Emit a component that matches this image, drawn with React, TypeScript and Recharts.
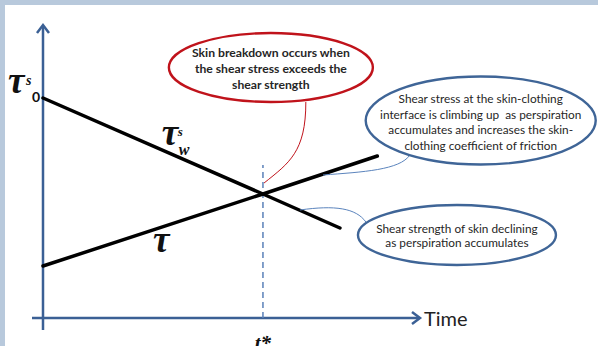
import { ComposedChart, Line, XAxis, YAxis, ReferenceLine, ReferenceDot } from 'recharts'

// time runs 0..17, t* = 10; stress values in arbitrary units
const stressPoints = [
  { t: 0, v: 5.2 },
  { t: 10, v: 12.4 },
  { t: 15.2, v: 16.2 },
]
const strengthPoints = [
  { t: 0, v: 22 },
  { t: 10, v: 12.4 },
  { t: 13.5, v: 9 },
]
const tStar = 10
const xDomain = [-0.5, 17.14]
const yDomain = [-1.2, 29.3]

const breakdownNote = ['Skin breakdown occurs when', 'the shear stress exceeds the', 'shear strength']
const stressNote = [
  'Shear stress at the skin-clothing',
  'interface is climbing up  as perspiration',
  'accumulates and increases the skin-',
  'clothing coefficient of friction',
]
const strengthNote = ['Shear strength of skin declining', 'as perspiration accumulates']

const AXIS = '#3b6095'
const RED = '#c0131b'
const BLUE = '#3f6597'
const SANS = 'Lato, "Open Sans", sans-serif'
const SERIF = '"Liberation Serif", serif'

function AxisX(p: any) {
  const { x1, y1, x2 } = p
  const right = Math.max(x1, x2)
  return (
    <g>
      <line x1={Math.min(x1, x2)} y1={y1} x2={right - 1} y2={y1} stroke={AXIS} strokeWidth={2.5} />
      <polyline points={`${right - 8},${y1 - 6} ${right},${y1} ${right - 8},${y1 + 6}`} fill="none" stroke={AXIS} strokeWidth={2.5} />
      <text x={right + 4} y={y1 + 8} fontFamily={SANS} fontSize={20} fill="#222">Time</text>
    </g>
  )
}

function AxisY(p: any) {
  const { x1, y1, y2 } = p
  const top = Math.min(y1, y2)
  return (
    <g>
      <line x1={x1} y1={Math.max(y1, y2)} x2={x1} y2={top + 1} stroke={AXIS} strokeWidth={2.5} />
      <polyline points={`${x1 - 6},${top + 8} ${x1},${top} ${x1 + 6},${top + 8}`} fill="none" stroke={AXIS} strokeWidth={2.5} />
    </g>
  )
}

function StarLine(p: any) {
  const { x1, y1, y2 } = p
  return (
    <g>
      <line x1={x1} y1={y1} x2={x1} y2={y2} stroke="#5a80b8" strokeWidth={1.5} strokeDasharray="6 4" />
      <text x={x1} y={350} textAnchor="middle" fontFamily={SERIF} fontStyle="italic" fontWeight="bold" fontSize={21} fill="#111">t*</text>
    </g>
  )
}

const curve = (color: string, d: (a: number, b: number, c: number, e: number) => string) =>
  (p: any) => <path d={d(p.x1, p.y1, p.x2, p.y2)} fill="none" stroke={color} strokeWidth={1} />

const redCallout = curve(RED, (a, b, c, e) => `M${a},${b} C${a},${b + 50} ${c + 25},${e - 20} ${c},${e}`)
const stressCallout = curve('#5b84bd', (a, b, c, e) => `M${a},${b} C${a - 10},${b + 15} ${c + 40},${e - 3} ${c},${e}`)
const strengthCallout = curve('#5b84bd', (a, b, c, e) => `M${a},${b} C${a + 35},${b - 5} ${c - 10},${e - 14} ${c},${e}`)

const note = (lines: string[], rx: number, ry: number, color: string, size: number, bold: boolean, offsets: number[]) =>
  (p: any) => (
    <g>
      <ellipse cx={p.cx} cy={p.cy} rx={rx} ry={ry} fill="#fff" stroke={color} strokeWidth={2.4} />
      {lines.map((l, i) => (
        <text key={i} x={p.cx} y={p.cy + offsets[i]} textAnchor="middle" fontFamily={SANS} fontSize={size}
          fontWeight={bold ? 'bold' : 'normal'} fill="#262626" style={{ whiteSpace: 'pre' }}>{l}</text>
      ))}
    </g>
  )

function TauZero(p: any) {
  const { cx, cy } = p
  return (
    <g fill="#111">
      <text x={cx - 35} y={cy - 5} fontFamily={SERIF} fontStyle="italic" fontWeight="bold" fontSize={37}>τ</text>
      <text x={cx - 17} y={cy - 13} fontFamily={SERIF} fontStyle="italic" fontWeight="bold" fontSize={14}>s</text>
      <text x={cx - 11} y={cy + 4} fontFamily={SANS} fontWeight="bold" fontSize={14}>0</text>
    </g>
  )
}

function TauW(p: any) {
  const { cx, cy } = p
  return (
    <g fill="#111">
      <text x={cx} y={cy - 3} fontFamily={SERIF} fontStyle="italic" fontWeight="bold" fontSize={37}>τ</text>
      <text x={cx + 16} y={cy - 12} fontFamily={SERIF} fontStyle="italic" fontWeight="bold" fontSize={13}>s</text>
      <text x={cx + 17} y={cy + 7} fontFamily={SERIF} fontStyle="italic" fontWeight="bold" fontSize={16}>w</text>
    </g>
  )
}

function Tau(p: any) {
  return (
    <text x={p.cx} y={p.cy} fontFamily={SERIF} fontStyle="italic" fontWeight="bold" fontSize={37} fill="#111">τ</text>
  )
}

export default function App() {
  return (
    <div style={{ position: 'absolute', left: 0, top: 0, width: 598, height: 346, boxSizing: 'border-box', background: '#fff', borderTop: '5px solid #b8c9dc', borderLeft: '5px solid #b8c9dc' }}>
      <div style={{ position: 'absolute', left: -5, top: -5 }}>
        <ComposedChart width={598} height={346} margin={{ top: 25, right: 178, bottom: 16, left: 32 }}>
          <XAxis type="number" dataKey="t" domain={xDomain} allowDataOverflow hide />
          <YAxis type="number" dataKey="v" domain={yDomain} allowDataOverflow hide />

          <ReferenceLine segment={[{ x: xDomain[0], y: 0 }, { x: xDomain[1], y: 0 }]} ifOverflow="visible" shape={AxisX} />
          <ReferenceLine segment={[{ x: 0, y: yDomain[0] }, { x: 0, y: yDomain[1] }]} ifOverflow="visible" shape={AxisY} />
          <ReferenceLine segment={[{ x: tStar, y: 0 }, { x: tStar, y: 15.3 }]} ifOverflow="visible" shape={StarLine} />

          <Line data={strengthPoints} dataKey="v" type="linear" stroke="#000" strokeWidth={3.5} strokeLinecap="round" dot={false} activeDot={false} isAnimationActive={false} />
          <Line data={stressPoints} dataKey="v" type="linear" stroke="#000" strokeWidth={3.5} strokeLinecap="round" dot={false} activeDot={false} isAnimationActive={false} />

          <ReferenceLine segment={[{ x: 11.95, y: 21.6 }, { x: 10.05, y: 13.5 }]} ifOverflow="visible" shape={redCallout} />
          <ReferenceLine segment={[{ x: 16.68, y: 16.3 }, { x: 12.73, y: 14.3 }]} ifOverflow="visible" shape={stressCallout} />
          <ReferenceLine segment={[{ x: 11.68, y: 10.8 }, { x: 14.68, y: 9.6 }]} ifOverflow="visible" shape={strengthCallout} />

          <ReferenceDot x={10.36} y={25.05} ifOverflow="visible" shape={note(breakdownNote, 102, 34.5, RED, 12.2, true, [-11, 5, 21])} />
          <ReferenceDot x={19.9} y={19.75} ifOverflow="visible" shape={note(stressNote, 115, 44, BLUE, 11.8, false, [-17.5, -2, 13.5, 29])} />
          <ReferenceDot x={18.82} y={8.3} ifOverflow="visible" shape={note(strengthNote, 99, 30, BLUE, 11.8, false, [-2.5, 12])} />

          <ReferenceDot x={0} y={22} ifOverflow="visible" shape={TauZero} />
          <ReferenceDot x={5.4} y={17.0} ifOverflow="visible" shape={TauW} />
          <ReferenceDot x={5.0} y={6.6} ifOverflow="visible" shape={Tau} />
        </ComposedChart>
      </div>
    </div>
  )
}
